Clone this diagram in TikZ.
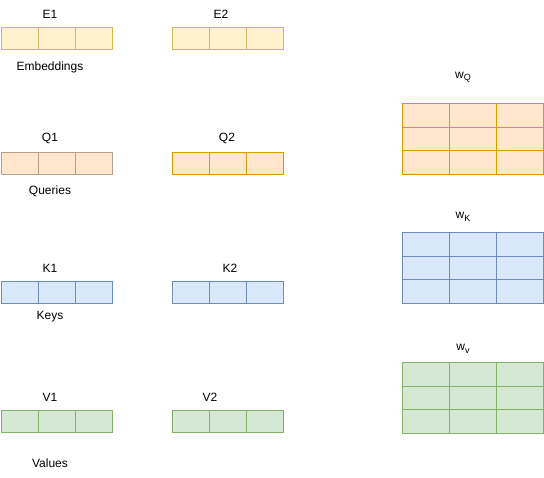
\documentclass[tikz,border=0pt]{standalone}
\usepackage{fontspec}
\setmainfont{Liberation Sans}
\definecolor{yfill}{HTML}{FFF2CC}\definecolor{ydraw}{HTML}{D6B656}
\definecolor{ofill}{HTML}{FFE6CC}\definecolor{odraw}{HTML}{D79B00}
\definecolor{qdraw}{HTML}{B3A08C}
\definecolor{bfill}{HTML}{DAE8FC}\definecolor{bdraw}{HTML}{6C8EBF}
\definecolor{gfill}{HTML}{D5E8D4}\definecolor{gdraw}{HTML}{82B366}
\newcommand{\vrow}[4]{\foreach \i in {0,1,2}{\node[cell,#4,minimum width=37pt,minimum height=22pt] (#1-\i) at ({#2+\i*37},#3) {};}}
\newcommand{\mgrid}[4]{\foreach \r in {0,1,2}{\foreach \c in {0,1,2}{\node[cell,#4,minimum width=47pt,minimum height=23.7pt] (#1-\r\c) at ({#2+\c*47},{#3+\r*23.7}) {};}}}
\newcommand{\wsub}[1]{w\raisebox{-2.5pt}{\fontsize{9}{9}\selectfont #1}}
\begin{document}
\begin{tikzpicture}[x=1pt,y=-1pt,
  cell/.style={rectangle,anchor=north west,inner sep=0,line width=1pt},
  yel/.style={fill=yfill,draw=ydraw},
  ora/.style={fill=ofill,draw=odraw},
  oraq/.style={fill=ofill,draw=qdraw},
  blu/.style={fill=bfill,draw=bdraw},
  grn/.style={fill=gfill,draw=gdraw},
  lbl/.style={font=\fontsize{12}{14}\selectfont,inner sep=0}]
\useasboundingbox (0,0) rectangle (544,478);
% vectors
\vrow{e1}{0.5}{27}{yel}
\vrow{e2}{171.5}{27}{yel}
\vrow{q1}{0.5}{152}{oraq}
\vrow{q2}{171.5}{152}{ora}
\vrow{k1}{0.5}{281.5}{blu}
\vrow{k2}{171.5}{281.5}{blu}
\vrow{v1}{0.5}{410.5}{grn}
\vrow{v2}{171.5}{410.5}{grn}
% matrices
\mgrid{wq}{402}{103}{ora}
\mgrid{wk}{402}{232}{blu}
\mgrid{wv}{402}{362}{grn}
% labels
\node[lbl] (le1) at (50,14) {E1};
\node[lbl] (le2) at (221,14) {E2};
\node[lbl] (lemb) at (50,67) {Embeddings};
\node[lbl] (lq1) at (50,138) {Q1};
\node[lbl] (lq2) at (227,138) {Q2};
\node[lbl] (lqry) at (50,191) {Queries};
\node[lbl] (lk1) at (50,268) {K1};
\node[lbl] (lk2) at (230,268) {K2};
\node[lbl] (lkeys) at (50,317) {Keys};
\node[lbl] (lv1) at (50,397) {V1};
\node[lbl] (lv2) at (210,397) {V2};
\node[lbl] (lval) at (50,463) {Values};
\node[lbl] (lwq) at (463,77) {\wsub{Q}};
\node[lbl] (lwk) at (463,217) {\wsub{K}};
\node[lbl] (lwv) at (463,349) {\wsub{v}};
\end{tikzpicture}
\end{document}
